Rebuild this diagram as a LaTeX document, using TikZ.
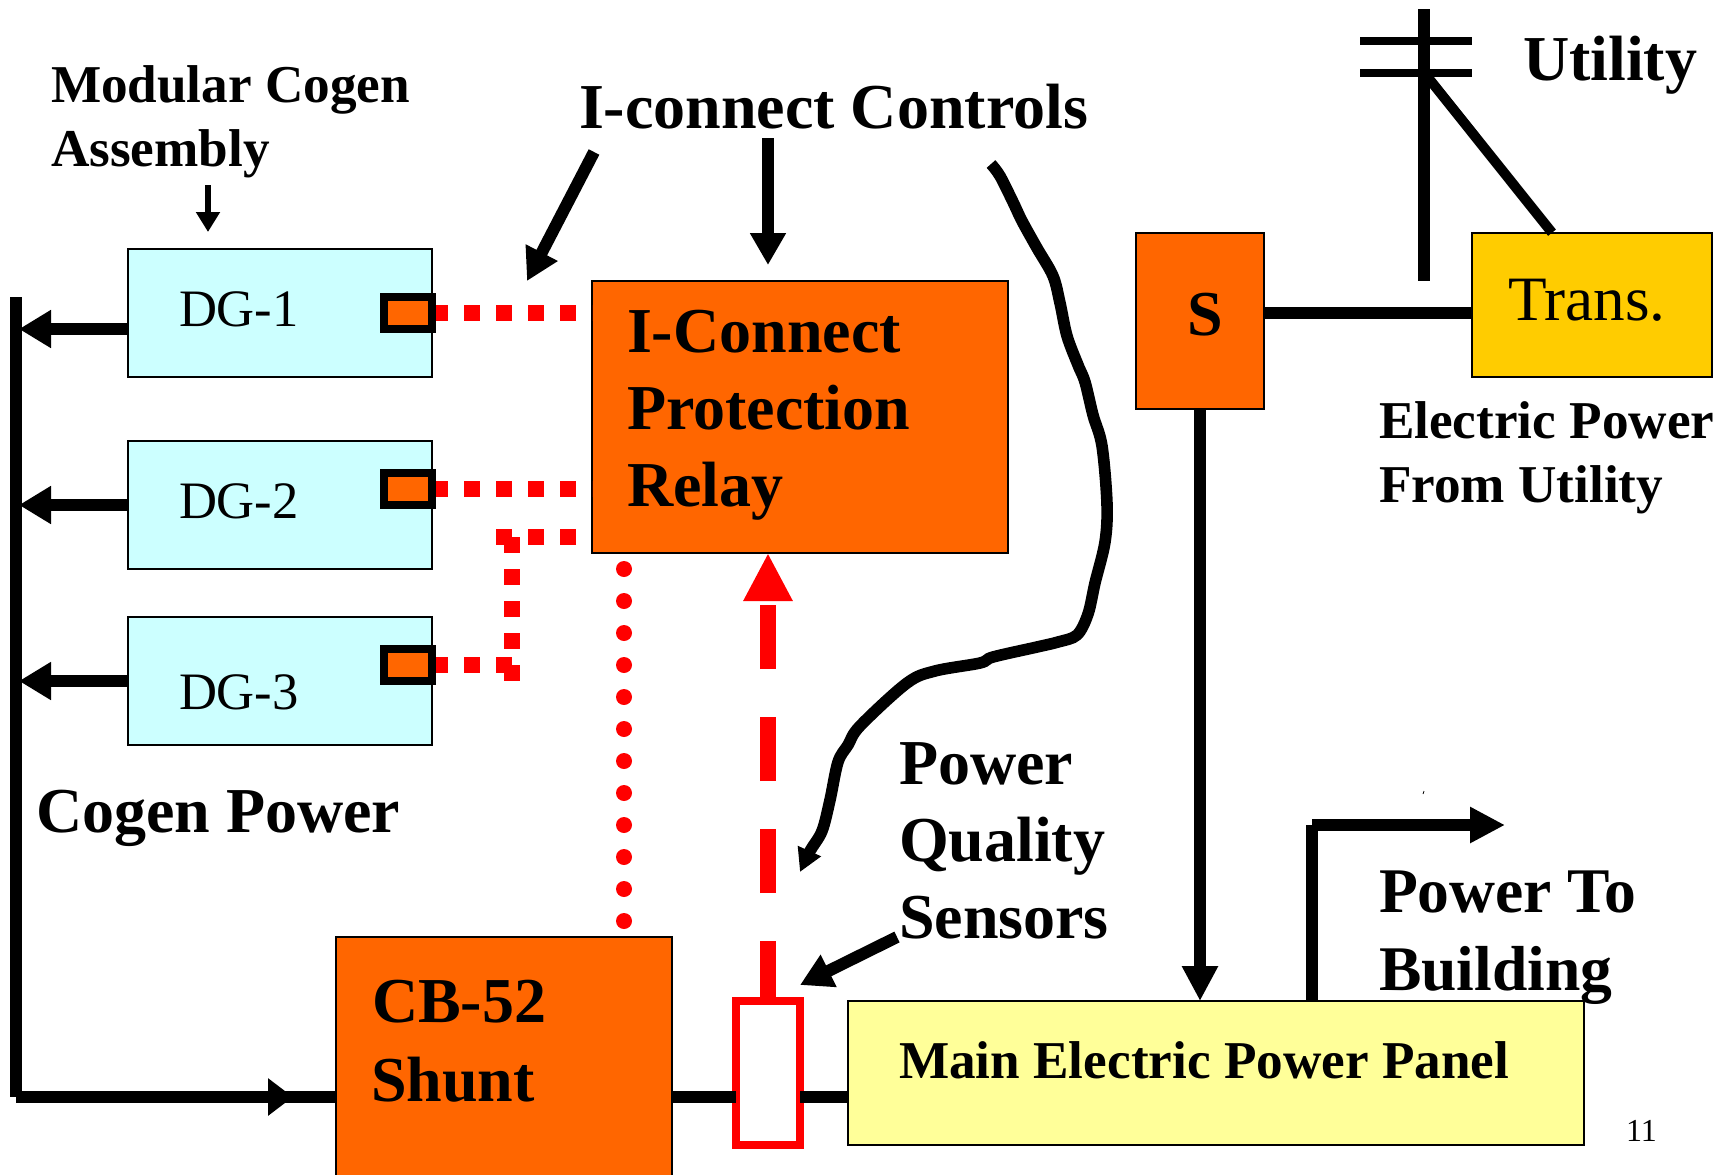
\documentclass[tikz,border=0pt]{standalone}
\usepackage{fontspec}
\setmainfont{Liberation Serif}
\usetikzlibrary{arrows.meta,calc}
\definecolor{orangeb}{HTML}{FF6600}
\definecolor{cyanb}{HTML}{CCFFFF}
\definecolor{goldb}{HTML}{FFCC00}
\definecolor{yellowb}{HTML}{FFFF99}
\definecolor{redl}{HTML}{FF0000}
\newcommand{\fsz}[1]{\fontsize{#1pt}{#1pt}\selectfont}
\tikzset{
  boxb/.style={draw=black,line width=1pt,inner sep=0pt,outer sep=0pt},
  dgbox/.style={boxb,fill=cyanb,minimum width=152pt,minimum height=64pt},
  orangebox/.style={boxb,fill=orangeb},
  tapbox/.style={draw=black,fill=orangeb,line width=4pt,inner sep=0pt,outer sep=0pt,minimum width=24pt,minimum height=16pt},
  lab/.style={anchor=base west,inner sep=0pt,outer sep=0pt,align=left},
  feed/.style={line width=6pt,draw=black},
  feedarrow/.style={line width=6pt,draw=black,-{Triangle[length=16pt,width=18pt]}},
  ctrl/.style={line width=6pt,draw=black,-{Triangle[length=16pt,width=17pt]}},
  redsq/.style={draw=redl,line width=8pt,dash pattern=on 8pt off 8pt},
  reddot/.style={draw=redl,line width=8pt,line cap=round,dash pattern=on 0pt off 16pt,dash phase=8pt}
}
\begin{document}
\begin{tikzpicture}[x=.5pt,y=-.5pt]
\useasboundingbox (0,0) rectangle (1730,1174);
% boxes
\node[dgbox] (dg1) at (280,312.5) {};
\node[dgbox] (dg2) at (280,505) {};
\node[dgbox] (dg3) at (280,681) {};
\node[orangebox,minimum width=208pt,minimum height=136pt] (relay) at (800,417) {};
\node[orangebox,minimum width=168pt,minimum height=160pt] (cb) at (504,1097) {};
\node[boxb,fill=yellowb,minimum width=368pt,minimum height=72pt] (panel) at (1216,1073) {};
\node[orangebox,minimum width=64.4pt,minimum height=88.2pt] (sw) at (1200,321) {};
\node[boxb,fill=goldb,minimum width=120pt,minimum height=72.3pt] (trans) at (1592,305) {};
% named free ends
\coordinate (bus1) at (16,329);
\coordinate (bus2) at (16,505);
\coordinate (bus3) at (16,681);
\coordinate (bustop) at (16,297);
\coordinate (buscorner) at (16,1097);
\coordinate (cbarrow) at (293,1097);
\coordinate (ylink) at (1300,313);
\coordinate (polebase) at (1424,281);
\coordinate (poletop) at (1424,9);
\coordinate (xa1) at (1360,41);
\coordinate (xa2) at (1472,41);
\coordinate (xb1) at (1360,73);
\coordinate (xb2) at (1472,73);
\coordinate (polejoin) at (1426,75);
\coordinate (bcorner) at (1312,825);
\coordinate (bend) at (1505,825);
\coordinate (modstart) at (208,185);
\coordinate (modend) at (208,232);
\coordinate (ic1) at (594,152);
\coordinate (ic1e) at (527,281);
\coordinate (ic2) at (768,138);
\coordinate (ic2e) at (768,265);
\coordinate (ps1) at (897,937);
\coordinate (ps1e) at (800,985);
\coordinate (rr3) at (592,537);
\coordinate (rj3) at (512,537);
\coordinate (rk3) at (512,681);
% bus and generators
\draw[feed] (bustop) -- (buscorner);
\draw[feed] (buscorner) -- (cb.west |- buscorner);
\draw[line width=6pt,-{Triangle[length=12.5pt,width=18pt]}] (buscorner) -- (cbarrow);
\draw[feedarrow] (dg1.west |- bus1) -- ($(bus1)+(3,0)$);
\draw[feedarrow] (dg2.west |- bus2) -- ($(bus2)+(3,0)$);
\draw[feedarrow] (dg3.west |- bus3) -- ($(bus3)+(3,0)$);
% sensor tap
\node[draw=redl,fill=white,line width=4pt,inner sep=0pt,outer sep=0pt,minimum width=32pt,minimum height=72pt] (pq) at (768,1073) {};
\draw[feed] (cb.east |- buscorner) -- (pq.west |- buscorner);
\draw[feed] (pq.east |- buscorner) -- (panel.west |- buscorner);
% red signal lines
\coordinate (t1) at (408,313);
\coordinate (t2) at (408,489);
\coordinate (t3) at (408,665);
\draw[redsq] (dg1.east |- t1) -- (relay.west |- t1);
\draw[redsq] (dg2.east |- t2) -- (relay.west |- t2);
\draw[redsq,dash phase=8pt] (rr3) -- ($(rj3)+(-16,0)$);
\draw[redsq] (rj3) -- (rk3);
\draw[redsq] (dg3.east |- t3) -- (rj3 |- t3);
\node[tapbox] (s1) at (t1) {};
\node[tapbox] (s2) at (t2) {};
\node[tapbox] (s3) at (t3) {};
\draw[reddot] ($(relay.south west)+(32,0)$) -- ($(cb.north west)+(288,0)$);
\draw[draw=redl,line width=8pt,dash pattern=on 32pt off 24pt,dash phase=2pt,-{Triangle[length=24pt,width=23pt,fill=redl]}] (pq.north) -- (pq.north |- relay.south);
% power lines
\draw[feed] (sw.east |- ylink) -- (trans.west |- ylink);
\draw[feedarrow,-{Triangle[length=17.5pt,width=17pt]}] (sw.south) -- (sw.south |- panel.north);
\draw[feed] (poletop) -- (polebase);
\draw[line width=4pt] (xa1) -- (xa2);
\draw[line width=4pt] (xb1) -- (xb2);
\draw[line width=5pt] (polejoin) -- ($(trans.north west)+(80,0)$);
\draw[line width=6pt] (bcorner |- panel.north) -- (bcorner);
\draw[line width=6pt,-{Triangle[length=17.5pt,width=17pt]}] (bcorner) -- (bend);
\draw[line width=.4pt] (1424,791) -- (1423,794);
% control arrows
\draw[line width=3pt,-{Triangle[length=10pt,width=11.5pt]}] (modstart) -- (modend);
\draw[ctrl] (ic1) -- (ic1e);
\draw[ctrl] (ic2) -- (ic2e);
\draw[ctrl] (ps1) -- (ps1e);
\draw[line width=5.8pt,-{Triangle[length=11.5pt,width=12pt]}] plot[smooth,tension=.55] coordinates {
(991,164)(1000,176)(1013,202)(1022,221)(1037,248)(1053,276)(1060,303)(1067,336)(1078,365)(1085,382)(1093,415)(1102,446)(1107,504)(1105,542)(1095,583)(1088,614)(1077,635)(1058,642)(1037,647)(993,657)(980,663)(935,671)(907,683)(860,726)(848,745)(838,762)(830,800)(822,831)(810,851)(800,872)};
% texts
\node[lab,font=\bfseries\fsz{26.6}] (t-mod) at (51,102) {Modular Cogen};
\node[lab,font=\bfseries\fsz{26.6}] (t-ass) at (51,166) {Assembly};
\node[lab,font=\bfseries\fsz{32}] (t-ic) at (579,128) {I-connect Controls};
\node[lab,font=\fsz{26.3}] (t-dg1) at (179,326) {DG-1};
\node[lab,font=\fsz{26.3}] (t-dg2) at (179,518) {DG-2};
\node[lab,font=\fsz{26.3}] (t-dg3) at (179,709) {DG-3};
\node[lab,font=\bfseries\fsz{32}] (t-r1) at (627,352) {I-Connect};
\node[lab,font=\bfseries\fsz{32}] (t-r2) at (627,429) {Protection};
\node[lab,font=\bfseries\fsz{32}] (t-r3) at (627,506) {Relay};
\node[lab,font=\bfseries\fsz{32}] (t-cp) at (36,832) {Cogen Power};
\node[lab,font=\bfseries\fsz{32}] (t-p1) at (899,784) {Power};
\node[lab,font=\bfseries\fsz{32}] (t-p2) at (899,861) {Quality};
\node[lab,font=\bfseries\fsz{32}] (t-p3) at (899,938) {Sensors};
\node[lab,font=\bfseries\fsz{32}] (t-cb1) at (372,1022) {CB-52};
\node[lab,font=\bfseries\fsz{32}] (t-cb2) at (371,1101) {Shunt};
\node[lab,font=\bfseries\fsz{32}] (t-s) at (1187,335) {S};
\node[lab,font=\fsz{31.6}] (t-tr) at (1508,320) {Trans.};
\node[lab,font=\bfseries\fsz{32}] (t-ut) at (1523,80) {Utility};
\node[lab,font=\bfseries\fsz{26.6}] (t-e1) at (1379,438) {Electric Power};
\node[lab,font=\bfseries\fsz{26.6}] (t-e2) at (1379,502) {From Utility};
\node[lab,font=\bfseries\fsz{31.8}] (t-b1) at (1379,912) {Power To};
\node[lab,font=\bfseries\fsz{31.8}] (t-b2) at (1379,990) {Building};
\node[lab,font=\bfseries\fsz{26.6}] (t-m) at (899,1078) {Main Electric Power Panel};
\node[lab,font=\fsz{16}] (t-n) at (1626,1141) {11};
\end{tikzpicture}
\end{document}
